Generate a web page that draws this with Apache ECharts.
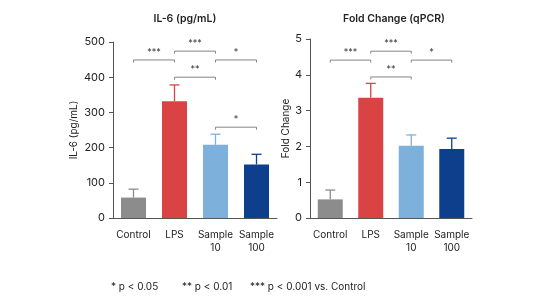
<!DOCTYPE html>
<html><head><meta charset="utf-8">
<script src="https://cdn.jsdelivr.net/npm/echarts@6/dist/echarts.min.js"></script>
<style>html,body{margin:0;padding:0;background:#fff}#c{width:544px;height:304px}</style>
</head><body><div id="c"></div>
<script>
const categories = ['Control', 'LPS', 'Sample\n10', 'Sample\n100'];
const colors = ['#8c8c8c', '#d94343', '#7eb0dc', '#0e3f8c'];
const il6 = [58, 332, 208, 152];
const il6Err = [24, 46, 30, 29];
const fold = [0.52, 3.36, 2.02, 1.93];
const foldErr = [0.26, 0.40, 0.30, 0.30];
const il6Ticks = [0, 100, 200, 300, 400, 500];
const foldTicks = [0, 1, 2, 3, 4, 5];
// [from category, to category, y level, label]
const il6Sig = [[0, 1, 449, '***'], [1, 2, 474, '***'], [2, 3, 449, '*'], [1, 2, 400, '**'], [2, 3, 258, '*']];
const foldSig = [[0, 1, 4.41, '***'], [1, 2, 4.66, '***'], [2, 3, 4.41, '*'], [1, 2, 3.94, '**']];

const font = 'Inter, "Noto Sans", sans-serif';
const chart = echarts.init(document.getElementById('c'));

function errSeries(idx, vals, errs) {
  return {
    type: 'custom', xAxisIndex: idx, yAxisIndex: idx, z: 1,
    data: vals.map((v, i) => [i, v, v + errs[i]]),
    renderItem: (params, api) => {
      const i = api.value(0);
      const p0 = api.coord([i, api.value(1)]);
      const p1 = api.coord([i, api.value(2)]);
      const c = colors[i];
      return { type: 'group', children: [
        { type: 'line', shape: { x1: p0[0], y1: p0[1], x2: p1[0], y2: p1[1] }, style: { stroke: c, lineWidth: 1.3 } },
        { type: 'line', shape: { x1: p1[0] - 5, y1: p1[1], x2: p1[0] + 5, y2: p1[1] }, style: { stroke: c, lineWidth: 1.3 } }
      ]};
    }
  };
}
function sigSeries(idx, sig) {
  return {
    type: 'custom', xAxisIndex: idx, yAxisIndex: idx, z: 3,
    data: sig.map(s => [s[0], s[1], s[2], s[3]]),
    renderItem: (params, api) => {
      const a = api.coord([api.value(0), api.value(2)]);
      const b = api.coord([api.value(1), api.value(2)]);
      const lab = sig[params.dataIndex][3];
      const st = { stroke: '#777', lineWidth: 0.9 };
      return { type: 'group', children: [
        { type: 'line', shape: { x1: a[0], y1: a[1], x2: b[0], y2: b[1] }, style: st },
        { type: 'line', shape: { x1: a[0], y1: a[1], x2: a[0], y2: a[1] + 2.5 }, style: st },
        { type: 'line', shape: { x1: b[0], y1: b[1], x2: b[0], y2: b[1] + 2.5 }, style: st },
        { type: 'text', style: { text: lab, x: (a[0] + b[0]) / 2, y: a[1] - 3, textAlign: 'center', textVerticalAlign: 'bottom', fill: '#333', font: '9px ' + font } }
      ]};
    }
  };
}
function xAx(idx) {
  return {
    type: 'category', gridIndex: idx, data: categories,
    axisLine: { lineStyle: { color: '#555', width: 1 } },
    axisTick: { alignWithLabel: true, length: 4, lineStyle: { color: '#555' } },
    axisLabel: { interval: 0, color: '#222', fontSize: 10, fontFamily: font, margin: 10, lineHeight: 13 }
  };
}
function yAx(idx, max, interval, name, gap) {
  return {
    type: 'value', gridIndex: idx, min: 0, max: max, interval: interval,
    name: name, nameLocation: 'middle', nameGap: gap,
    nameTextStyle: { color: '#222', fontSize: 10, fontFamily: font },
    axisLine: { show: true, lineStyle: { color: '#555', width: 1 } },
    axisTick: { show: true, length: 4, lineStyle: { color: '#555' } },
    axisLabel: { color: '#222', fontSize: 11, fontFamily: font, margin: 8 },
    splitLine: { show: false }
  };
}
function barSeries(idx, vals) {
  return {
    type: 'bar', xAxisIndex: idx, yAxisIndex: idx, z: 2, barWidth: 25,
    data: vals.map((v, i) => ({ value: v, itemStyle: { color: colors[i] } }))
  };
}

chart.setOption({
  animation: false,
  backgroundColor: '#fff',
  title: [
    { text: 'IL-6 (pg/mL)', left: 180, top: 8, textAlign: 'center', textStyle: { fontSize: 10.5, fontWeight: 600, color: '#222', fontFamily: font } },
    { text: 'Fold Change (qPCR)', left: 389, top: 8, textAlign: 'center', textStyle: { fontSize: 10.5, fontWeight: 600, color: '#222', fontFamily: font } }
  ],
  grid: [
    { left: 113, top: 42, width: 164, height: 176 },
    { left: 310, top: 39, width: 162, height: 179 }
  ],
  xAxis: [xAx(0), xAx(1)],
  yAxis: [yAx(0, il6Ticks[il6Ticks.length - 1], il6Ticks[1] - il6Ticks[0], 'IL-6 (pg/mL)', 34),
          yAx(1, foldTicks[foldTicks.length - 1], foldTicks[1] - foldTicks[0], 'Fold Change', 14)],
  series: [barSeries(0, il6), errSeries(0, il6, il6Err), sigSeries(0, il6Sig),
           barSeries(1, fold), errSeries(1, fold, foldErr), sigSeries(1, foldSig)],
  graphic: [
    { type: 'text', left: 111, top: 282, style: { text: '* p < 0.05', fill: '#222', font: '10px ' + font } },
    { type: 'text', left: 182, top: 282, style: { text: '** p < 0.01', fill: '#222', font: '10px ' + font } },
    { type: 'text', left: 250, top: 282, style: { text: '*** p < 0.001 vs. Control', fill: '#222', font: '10px ' + font } }
  ]
});
</script></body></html>
